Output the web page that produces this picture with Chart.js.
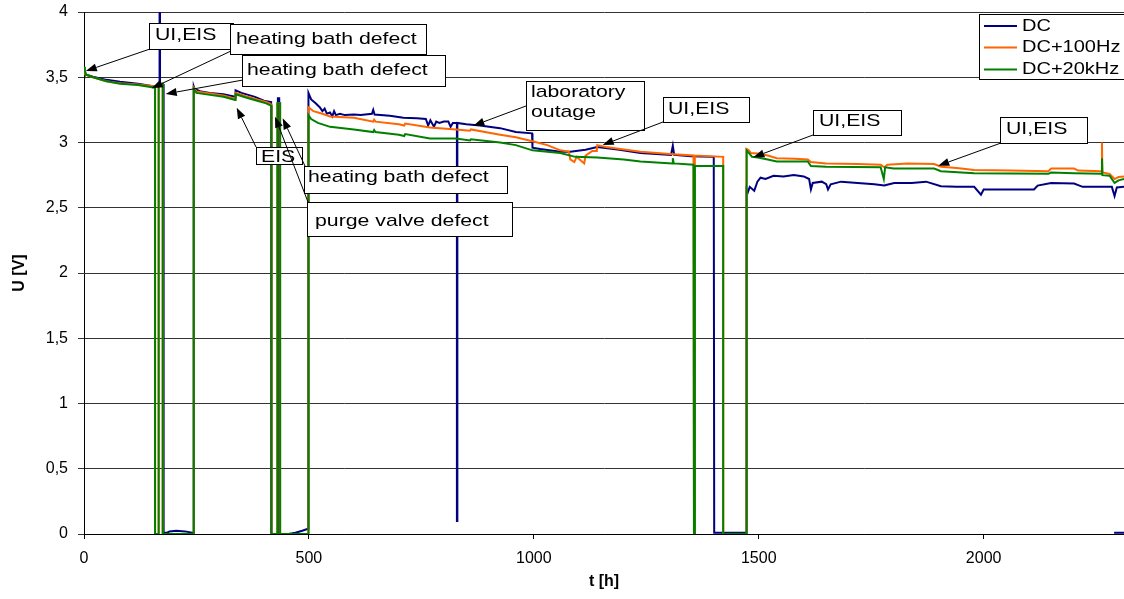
<!DOCTYPE html>
<html>
<head>
<meta charset="utf-8">
<title>Cell voltage U over time</title>
<script src="https://cdn.jsdelivr.net/npm/chart.js@4.4.1/dist/chart.umd.min.js"></script>
<style>
  html, body { margin: 0; padding: 0; background: #fff; }
  canvas { display: block; }
</style>
</head>
<body>
<canvas id="voltChart" width="1124" height="599"></canvas>
<script>
// ----- SERIES -----
const seriesNames = ["DC", "DC+100Hz", "DC+20kHz"];
const seriesColors = ["#000080", "#ff6600", "#008000"];

// DC: time [h] and voltage [V]
const dcTime = [
  0, 5, 20, 50, 80, 120, 157, 168, 168, 169, 169, 177, 177, 185, 190, 205, 225, 240, 244,
  244, 246, 260, 280, 310, 336, 337, 350, 380, 400, 416, 416, 431, 431, 434, 434, 455, 470, 485, 498,
  499, 505, 515, 524, 530, 535, 540, 547, 552, 556, 560, 569, 580, 600, 615, 640, 643, 646, 680,
  710, 740, 760, 765, 770, 778, 783, 790, 800, 810, 815, 820, 829, 829, 830, 830, 850, 880, 925,
  960, 996, 997, 1014, 1059, 1081, 1115, 1141, 1190, 1237, 1305, 1309, 1312, 1349, 1371, 1400,
  1401, 1473, 1473, 1476, 1480, 1490, 1497, 1504, 1515, 1533, 1555, 1578, 1600, 1612, 1616, 1620,
  1640, 1650, 1654, 1660, 1683, 1720, 1757, 1779, 1801, 1840, 1872, 1905, 1940, 1979, 1994, 2000,
  2050, 2112, 2120, 2150, 2201, 2220, 2262, 2285, 2291, 2296, 2312, 2300, 2290, 2312
];
const dcVolt = [
  3.53, 3.52, 3.505, 3.48, 3.465, 3.45, 3.43, 3.44, 4.3, 4.3, 3.44, 3.44, 0.01, 0.01, 0.02, 0.025, 0.02, 0.01, 0.01,
  3.43, 3.41, 3.39, 3.38, 3.37, 3.35, 3.40, 3.38, 3.35, 3.32, 3.31, 0, 0, 3.34, 3.34, 0, 0, 0.01, 0.025, 0.04,
  3.38, 3.33, 3.30, 3.27, 3.24, 3.26, 3.22, 3.23, 3.20, 3.24, 3.21, 3.22, 3.21, 3.215, 3.21, 3.22, 3.25, 3.215, 3.205,
  3.19, 3.185, 3.18, 3.13, 3.17, 3.12, 3.16, 3.15, 3.16, 3.16, 3.12, 3.15, 3.15, 0.1, 0.1, 3.15, 3.14, 3.13, 3.11,
  3.08, 3.07, 2.96, 2.95, 2.93, 2.93, 2.944, 2.965, 2.945, 2.92, 2.905, 2.975, 2.905, 2.895, 2.893, 2.89,
  0.01, 0.01, 2.64, 2.62, 2.66, 2.63, 2.70, 2.73, 2.72, 2.745, 2.74, 2.75, 2.74, 2.72, 2.64, 2.69,
  2.70, 2.68, 2.64, 2.68, 2.70, 2.69, 2.68, 2.67, 2.69, 2.69, 2.70, 2.665, 2.66, 2.66, 2.60, 2.64,
  2.64, 2.64, 2.67, 2.69, 2.685, 2.66, 2.66, 2.66, 2.59, 2.655, 2.66, null, 0.01, 0.01
];

// DC+100Hz
const hz100Time = [
  0, 3, 20, 50, 80, 120, 158, 158, 166, 166, 175, 175, 244,
  244, 250, 280, 310, 336, 337, 360, 385, 405, 417, 417, 430, 430, 436, 436, 499,
  499, 510, 530, 547, 600, 643, 645, 648, 700, 712, 714, 769, 827, 858, 860, 925, 960, 997,
  1030, 1059, 1078, 1081, 1090, 1095, 1105, 1112, 1115, 1130, 1140, 1141, 1160, 1237, 1310, 1355,
  1356, 1358, 1358, 1421, 1421, 1473,
  1473, 1478, 1482, 1498, 1520, 1540, 1580, 1609, 1616, 1650, 1720, 1771, 1779, 1786, 1830, 1890,
  1905, 1940, 1979, 2060, 2144, 2150, 2201, 2210, 2262, 2263, 2264, 2280, 2291, 2300, 2312
];
const hz100Volt = [
  3.55, 3.52, 3.50, 3.47, 3.455, 3.445, 3.43, 0, 0, 3.45, 3.45, 0, 0,
  3.42, 3.39, 3.375, 3.36, 3.335, 3.38, 3.355, 3.33, 3.31, 3.29, 0, 0, 3.30, 3.30, 0, 0,
  3.27, 3.24, 3.22, 3.20, 3.19, 3.16, 3.175, 3.16, 3.14, 3.13, 3.145, 3.115, 3.10, 3.09, 3.10, 3.06, 3.04, 3.01,
  2.98, 2.94, 2.93, 2.87, 2.85, 2.89, 2.86, 2.84, 2.90, 2.935, 2.935, 2.98, 2.965, 2.93, 2.91, 2.90,
  0, 0, 2.90, 2.89, 0, 0,
  2.95, 2.94, 2.92, 2.915, 2.90, 2.88, 2.875, 2.87, 2.85, 2.84, 2.835, 2.83, 2.81, 2.83, 2.84, 2.835,
  2.815, 2.805, 2.79, 2.785, 2.78, 2.80, 2.80, 2.785, 2.78, 3.00, 2.77, 2.76, 2.72, 2.735, 2.74
];

// DC+20kHz
const khz20Time = [
  0, 2, 5, 20, 50, 80, 120, 158, 158, 166, 166, 175, 175, 244,
  244, 250, 280, 310, 336, 337, 360, 385, 405, 417, 417, 430, 430, 436, 436, 499,
  499, 505, 520, 547, 600, 643, 645, 648, 700, 712, 714, 769, 827, 858, 860, 925, 960, 997,
  1030, 1059, 1092, 1141, 1200, 1237, 1308, 1309, 1311, 1355,
  1356, 1358, 1358, 1421, 1421, 1473,
  1473, 1478, 1485, 1498, 1520, 1540, 1609, 1616, 1650, 1771, 1778, 1781, 1800, 1890,
  1905, 1979, 2144, 2150, 2201, 2262, 2263, 2264, 2280, 2291, 2300, 2312
];
const khz20Volt = [
  3.58, 3.55, 3.52, 3.50, 3.47, 3.45, 3.44, 3.42, 0, 0, 3.45, 3.45, 0, 0,
  3.41, 3.38, 3.365, 3.35, 3.325, 3.37, 3.345, 3.32, 3.30, 3.28, 0, 0, 3.30, 3.30, 0, 0,
  3.21, 3.18, 3.15, 3.12, 3.10, 3.08, 3.095, 3.08, 3.06, 3.05, 3.065, 3.03, 3.03, 3.015, 3.025, 3.00, 2.98, 2.94,
  2.93, 2.92, 2.89, 2.885, 2.87, 2.855, 2.84, 2.88, 2.84, 2.83,
  0, 0, 2.82, 2.82, 0, 0,
  2.94, 2.92, 2.89, 2.885, 2.87, 2.855, 2.855, 2.82, 2.815, 2.81, 2.72, 2.81, 2.80, 2.80,
  2.78, 2.765, 2.76, 2.77, 2.765, 2.76, 2.88, 2.75, 2.745, 2.69, 2.71, 2.72
];

// ----- AXES -----
const xTicks = [0, 500, 1000, 1500, 2000];
const xTickLabels = ["0", "500", "1000", "1500", "2000"];
const yTicks = [0, 0.5, 1, 1.5, 2, 2.5, 3, 3.5, 4];
const yTickLabels = ["0", "0,5", "1", "1,5", "2", "2,5", "3", "3,5", "4"];

// ----- CALLOUTS -----
// box: [left, top, width, height] px, textAt: [x, y] px, from: arrow start px, tip: [t, U]
const callouts = [
  { lines: ["UI,EIS"], box: [149, 23, 84, 26], textAt: [155, 35], from: [150, 49], tip: [4, 3.548] },
  { lines: ["heating bath defect"], box: [230, 24, 196, 30], textAt: [236, 39], from: [231, 51], tip: [150.5, 3.415] },
  { lines: ["heating bath defect"], box: [242, 55, 203, 31], textAt: [247, 70], from: [243, 80], tip: [181.6, 3.372] },
  { lines: ["EIS"], box: [256, 147, 46, 17], textAt: [261, 157], from: [256, 147], tip: [339.5, 3.267] },
  { lines: ["heating bath defect"], box: [304, 166, 203, 27], textAt: [308, 177], from: [305, 166], tip: [441.7, 3.185] },
  { lines: ["purge valve defect"], box: [307, 202, 205, 34], textAt: [315, 221], from: [308, 202], tip: [424.6, 3.198] },
  { lines: ["laboratory", "outage"], box: [526, 81, 118, 49], textAt: [531, 92.5], from: [526, 106], tip: [865.5, 3.129] },
  { lines: ["UI,EIS"], box: [663, 97, 86, 25], textAt: [668, 109], from: [663, 122], tip: [1153, 2.981] },
  { lines: ["UI,EIS"], box: [813, 110, 88, 25], textAt: [819, 121], from: [813, 135], tip: [1488, 2.887] },
  { lines: ["UI,EIS"], box: [1000, 117, 87, 26], textAt: [1006, 129], from: [1001, 143], tip: [1899, 2.822] }
];

const FONT = '"Liberation Sans", Arial, sans-serif';
const TEXT_STRETCH = 1.25;

// ----- HELPERS -----
function toPoints(times, volts) {
  return times.map((t, i) => ({ x: t, y: volts[i] }));
}

function stretchedText(ctx, text, x, y) {
  ctx.save();
  ctx.translate(x, y);
  ctx.scale(TEXT_STRETCH, 1);
  ctx.fillText(text, 0, 0);
  ctx.restore();
}

function drawArrow(ctx, x0, y0, x1, y1) {
  const ang = Math.atan2(y1 - y0, x1 - x0);
  const len = 11, half = 4;
  const bx = x1 - len * Math.cos(ang);
  const by = y1 - len * Math.sin(ang);
  ctx.beginPath();
  ctx.moveTo(x0, y0);
  ctx.lineTo(bx, by);
  ctx.stroke();
  ctx.beginPath();
  ctx.moveTo(x1, y1);
  ctx.lineTo(bx + half * Math.sin(ang), by - half * Math.cos(ang));
  ctx.lineTo(bx - half * Math.sin(ang), by + half * Math.cos(ang));
  ctx.closePath();
  ctx.fill();
}

// text boxes with arrows pointing at the events
const calloutPlugin = {
  id: "callouts",
  afterDatasetsDraw(chart) {
    const { ctx, scales } = chart;
    ctx.save();
    ctx.lineWidth = 1;
    ctx.strokeStyle = "#000";
    callouts.forEach(c => {
      const tx = scales.x.getPixelForValue(c.tip[0]);
      const ty = scales.y.getPixelForValue(c.tip[1]);
      ctx.fillStyle = "#000";
      drawArrow(ctx, c.from[0], c.from[1], tx, ty);

      const [bx, by, bw, bh] = c.box;
      ctx.fillStyle = "#fff";
      ctx.fillRect(bx, by, bw, bh);
      ctx.strokeRect(bx + 0.5, by + 0.5, bw, bh);

      ctx.fillStyle = "#000";
      ctx.font = "17px " + FONT;
      ctx.textAlign = "left";
      ctx.textBaseline = "middle";
      c.lines.forEach((line, i) => stretchedText(ctx, line, c.textAt[0], c.textAt[1] + i * 19.4));
    });
    ctx.restore();
  }
};

// boxed legend in the top right corner of the plot
const boxLegendPlugin = {
  id: "boxLegend",
  afterDraw(chart) {
    const { ctx } = chart;
    const left = 979, top = 14, width = 150, height = 65;
    const rows = [26, 47.5, 69.5];
    ctx.save();
    ctx.fillStyle = "#fff";
    ctx.fillRect(left, top, width, height);
    ctx.strokeStyle = "#000";
    ctx.lineWidth = 1;
    ctx.strokeRect(left + 0.5, top + 0.5, width, height);
    ctx.font = "16px " + FONT;
    ctx.textBaseline = "middle";
    chart.data.datasets.forEach((ds, i) => {
      ctx.strokeStyle = ds.borderColor;
      ctx.lineWidth = 2;
      ctx.beginPath();
      ctx.moveTo(984, rows[i]);
      ctx.lineTo(1017, rows[i]);
      ctx.stroke();
      ctx.fillStyle = "#000";
      stretchedText(ctx, ds.label, 1022, rows[i] + 0.5);
    });
    ctx.restore();
  }
};

// ----- CHART -----
const ctx = document.getElementById("voltChart").getContext("2d");

const chart = new Chart(ctx, {
  type: "line",
  data: {
    datasets: [
      { label: seriesNames[0], data: toPoints(dcTime, dcVolt), borderColor: seriesColors[0], order: 2 },
      { label: seriesNames[1], data: toPoints(hz100Time, hz100Volt), borderColor: seriesColors[1], order: 1 },
      { label: seriesNames[2], data: toPoints(khz20Time, khz20Volt), borderColor: seriesColors[2], order: 0 }
    ]
  },
  options: {
    responsive: false,
    animation: false,
    events: [],
    layout: { padding: { top: 12, right: 0, bottom: 0, left: 0 } },
    elements: {
      line: { borderWidth: 2, tension: 0, fill: false },
      point: { radius: 0 }
    },
    plugins: {
      legend: { display: false },
      tooltip: { enabled: false }
    },
    scales: {
      x: {
        type: "linear",
        min: 0,
        max: 2312,
        afterBuildTicks: scale => { scale.ticks = xTicks.map(v => ({ value: v })); },
        afterFit: scale => { scale.height = 65; },
        grid: { drawOnChartArea: false, drawTicks: true, tickLength: 5, color: "#000" },
        border: { color: "#000", width: 1 },
        ticks: {
          color: "#000",
          padding: 10,
          maxRotation: 0,
          font: { family: FONT, size: 16 },
          callback: value => xTickLabels[xTicks.indexOf(value)]
        },
        title: {
          display: true,
          text: "t [h]",
          color: "#000",
          padding: { top: 0, bottom: 8 },
          font: { family: FONT, size: 16, weight: "bold" }
        }
      },
      y: {
        min: 0,
        max: 4,
        afterBuildTicks: scale => { scale.ticks = yTicks.map(v => ({ value: v })); },
        // fixed axis width; top/bottom room comes from the layout padding
        afterFit: scale => {
          scale.width = 84;
          scale.paddingTop = 0;
          scale.paddingBottom = 0;
        },
        grid: { color: "#333", tickLength: 6, drawTicks: true },
        border: { color: "#000", width: 1 },
        ticks: {
          color: "#000",
          padding: 10,
          font: { family: FONT, size: 16 },
          callback: value => yTickLabels[yTicks.indexOf(value)]
        },
        title: {
          display: true,
          text: "U [V]",
          color: "#000",
          padding: { top: 10, bottom: 0 },
          font: { family: FONT, size: 16, weight: "bold" }
        }
      }
    }
  },
  plugins: [calloutPlugin, boxLegendPlugin]
});
</script>
</body>
</html>
